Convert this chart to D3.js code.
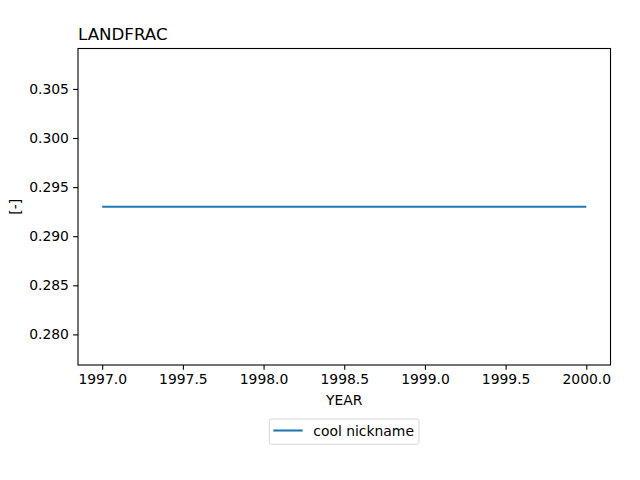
<!DOCTYPE html>
<html><head><meta charset="utf-8">
<script src="https://cdn.jsdelivr.net/npm/d3@7"></script>
<style>body{margin:0;background:#fff}svg text{font-family:"DejaVu Sans",sans-serif;fill:#000}</style>
</head><body>
<svg id="c" width="640" height="480"></svg>
<script>
const years = [1997, 1998, 1999, 2000];
const landfrac = [0.293, 0.293, 0.293, 0.293];
const seriesName = "cool nickname";
const xTicks = [1997.0, 1997.5, 1998.0, 1998.5, 1999.0, 1999.5, 2000.0];
const yTicks = [0.280, 0.285, 0.290, 0.295, 0.300, 0.305];

const L = 78, R = 610.5, T = 48.5, B = 365;
const svg = d3.select("#c");
const x = d3.scaleLinear().domain([1996.85, 2000.15]).range([L, R]);
const y = d3.scaleLinear().domain([0.276885, 0.309115]).range([B, T]);

const xa = svg.append("g").attr("transform", `translate(0,${B})`)
  .call(d3.axisBottom(x).tickValues(xTicks).tickFormat(d3.format(".1f")).tickSize(4.86).tickPadding(4.2));
const ya = svg.append("g").attr("transform", `translate(${L},0)`)
  .call(d3.axisLeft(y).tickValues(yTicks).tickFormat(d3.format(".3f")).tickSize(4.86).tickPadding(4.2));
[xa, ya].forEach(a => {
  a.select(".domain").remove();
  a.selectAll("line").attr("stroke", "#000").attr("stroke-width", 1.1);
  a.selectAll("text").attr("font-size", "13.9px").attr("font-family", "DejaVu Sans").attr("fill", "#000");
});

svg.append("path").datum(years.map((d, i) => [d, landfrac[i]]))
  .attr("fill", "none").attr("stroke", "#1f77b4").attr("stroke-width", 2.08)
  .attr("d", d3.line().x(d => x(d[0])).y(d => y(d[1])));

svg.append("rect").attr("x", L).attr("y", T).attr("width", R - L).attr("height", B - T)
  .attr("fill", "none").attr("stroke", "#000").attr("stroke-width", 1.1);

svg.append("text").attr("x", L).attr("y", 40).attr("font-size", "16.67px").text("LANDFRAC");
svg.append("text").attr("x", (L + R) / 2).attr("y", 404.5).attr("text-anchor", "middle")
  .attr("font-size", "13.9px").text("YEAR");
svg.append("text").attr("transform", `translate(20,${(T + B) / 2}) rotate(-90)`)
  .attr("text-anchor", "middle").attr("font-size", "13.9px").text("[-]");

const lg = svg.append("g");
lg.append("rect").attr("x", 269.3).attr("y", 419).attr("width", 149.7).attr("height", 25.3)
  .attr("rx", 2.5).attr("fill", "#fff").attr("fill-opacity", 0.8).attr("stroke", "#d5d5d5").attr("stroke-width", 1);
lg.append("line").attr("x1", 273.3).attr("x2", 302.7).attr("y1", 430.5).attr("y2", 430.5)
  .attr("stroke", "#1f77b4").attr("stroke-width", 2.08);
lg.append("text").attr("x", 313.3).attr("y", 435.7).attr("font-size", "13.9px").text(seriesName);
</script>
</body></html>
